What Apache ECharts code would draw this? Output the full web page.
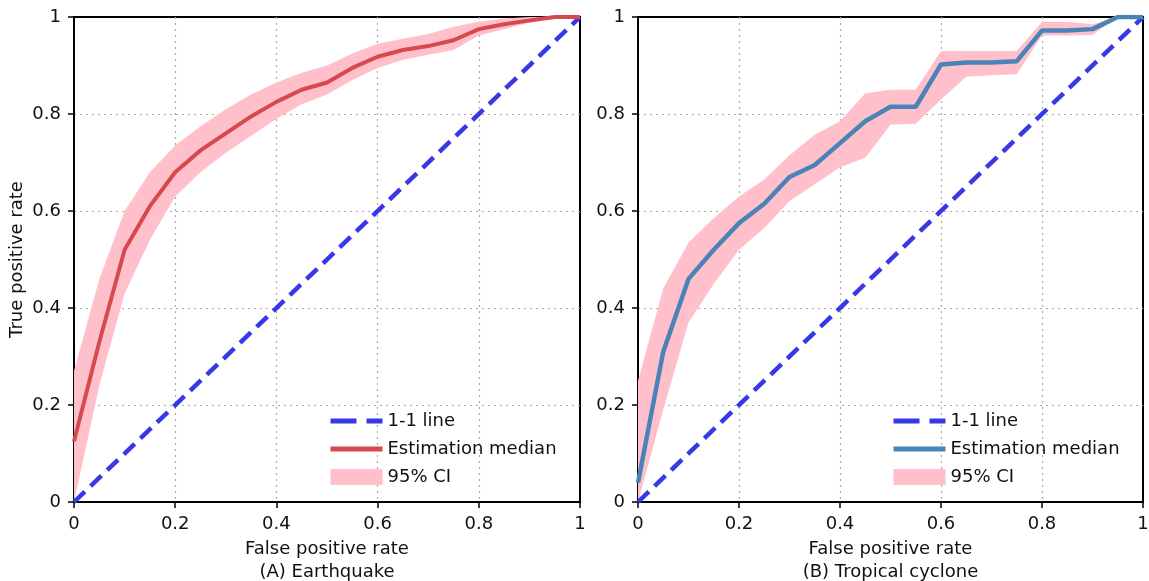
<!DOCTYPE html>
<html>
<head>
<meta charset="utf-8">
<script src="https://cdn.jsdelivr.net/npm/echarts@6/dist/echarts.min.js"></script>
<style>
  html, body { margin: 0; padding: 0; background: #fff; }
  #chart { width: 1149px; height: 581px; }
</style>
</head>
<body>
<div id="chart"></div>
<script>
// false positive rate grid shared by both panels
const fpr = [0, 0.05, 0.1, 0.15, 0.2, 0.25, 0.3, 0.35, 0.4, 0.45, 0.5,
             0.55, 0.6, 0.65, 0.7, 0.75, 0.8, 0.85, 0.9, 0.95, 1];

// (A) Earthquake
const quakeMedian = [0.125, 0.33, 0.52, 0.61, 0.68, 0.725, 0.76, 0.795, 0.825, 0.85, 0.865,
                     0.895, 0.918, 0.932, 0.94, 0.952, 0.975, 0.985, 0.993, 1, 1];
const quakeLower  = [0, 0.24, 0.43, 0.54, 0.63, 0.68, 0.72, 0.755, 0.79, 0.82, 0.84,
                     0.87, 0.895, 0.912, 0.922, 0.932, 0.962, 0.975, 0.988, 1, 1];
const quakeUpper  = [0.27, 0.46, 0.6, 0.68, 0.735, 0.775, 0.81, 0.84, 0.865, 0.885, 0.9,
                     0.925, 0.945, 0.955, 0.965, 0.98, 0.99, 0.997, 1, 1, 1];

// (B) Tropical cyclone
const cycloneMedian = [0.04, 0.31, 0.46, 0.52, 0.575, 0.615, 0.67, 0.695, 0.74, 0.785, 0.815,
                       0.815, 0.902, 0.906, 0.906, 0.909, 0.972, 0.972, 0.975, 1, 1];
const cycloneLower  = [0, 0.19, 0.37, 0.45, 0.52, 0.565, 0.62, 0.655, 0.69, 0.71, 0.778,
                       0.78, 0.83, 0.877, 0.88, 0.882, 0.962, 0.962, 0.963, 1, 1];
const cycloneUpper  = [0.25, 0.44, 0.535, 0.585, 0.63, 0.665, 0.715, 0.757, 0.785, 0.843, 0.85,
                       0.85, 0.93, 0.93, 0.93, 0.93, 0.99, 0.99, 0.985, 1, 1];

const oneToOne = [0, 1];

const FONT = 'DejaVu Sans';
const FS = 18;
const PINK = '#ffc0cb';
const DASH_BLUE = '#3838e6';
const RED = '#d64a4e';
const STEEL = '#4a84b6';

function pairs(xs, ys) { return xs.map((x, i) => [x, ys[i]]); }

function axisCommon(idx) {
  return {
    type: 'value', gridIndex: idx, min: 0, max: 1, interval: 0.2,
    axisLine: { show: true, onZero: false, lineStyle: { color: '#000', width: 2 } },
    axisTick: { show: true, length: 6, lineStyle: { color: '#000', width: 1.5 } },
    axisLabel: { color: '#111', fontFamily: FONT, fontSize: FS, margin: 13 },
    splitLine: { show: true, showMinLine: false, showMaxLine: false,
                 lineStyle: { color: '#aaa', type: [2, 4], width: 1.2 } },
    nameTextStyle: { color: '#111', fontFamily: FONT, fontSize: FS, lineHeight: 23 }
  };
}

// confidence band drawn as one polygon: upper edge forward, lower edge back
function bandSeries(idx, lower, upper) {
  return {
    name: '95% CI', type: 'custom', xAxisIndex: idx, yAxisIndex: idx,
    coordinateSystem: 'cartesian2d', data: [[0, 0]], silent: true,
    itemStyle: { color: PINK }, z: 1, clip: true,
    renderItem: function (params, api) {
      const pts = [];
      for (let i = 0; i < fpr.length; i++) pts.push(api.coord([fpr[i], upper[i]]));
      for (let i = fpr.length - 1; i >= 0; i--) pts.push(api.coord([fpr[i], lower[i]]));
      return { type: 'polygon', shape: { points: pts }, style: { fill: PINK } };
    }
  };
}

function panelSeries(idx, median, lower, upper, medColor, medWidth) {
  return [
    bandSeries(idx, lower, upper),
    {
      name: '1-1 line', type: 'line', xAxisIndex: idx, yAxisIndex: idx,
      data: pairs(oneToOne, oneToOne), symbol: 'none',
      itemStyle: { color: DASH_BLUE },
      lineStyle: { color: DASH_BLUE, width: 4.5, type: [15, 8] }, z: 3
    },
    {
      name: 'Estimation median', type: 'line', xAxisIndex: idx, yAxisIndex: idx,
      data: pairs(fpr, median), symbol: 'none',
      itemStyle: { color: medColor },
      lineStyle: { color: medColor, width: medWidth }, z: 4
    }
  ];
}

function legendFor(left, medColor) {
  return {
    orient: 'vertical', left: left, top: 407,
    itemWidth: 52, itemHeight: 16, itemGap: 10,
    textStyle: { color: '#111', fontFamily: FONT, fontSize: FS },
    selectedMode: false,
    data: [
      { name: '1-1 line', itemStyle: { opacity: 0 },
        lineStyle: { color: DASH_BLUE, width: 5, type: [26, 10] } },
      { name: 'Estimation median', itemStyle: { opacity: 0 },
        lineStyle: { color: medColor, width: 5, type: 'solid' } },
      { name: '95% CI', icon: 'rect', itemStyle: { color: PINK, borderWidth: 0 } }
    ]
  };
}

const chart = echarts.init(document.getElementById('chart'), null, { renderer: 'canvas' });

const xA = Object.assign(axisCommon(0), {
  name: 'False positive rate\n(A) Earthquake', nameLocation: 'middle', nameGap: 31
});
const xB = Object.assign(axisCommon(1), {
  name: 'False positive rate\n(B) Tropical cyclone', nameLocation: 'middle', nameGap: 31
});
const yA = Object.assign(axisCommon(0), {
  name: 'True positive rate', nameLocation: 'middle', nameGap: 39
});
const yB = axisCommon(1);

const gridBase = {
  top: 17, height: 485, show: true, borderColor: '#000', borderWidth: 2,
  backgroundColor: 'transparent', containLabel: false, outerBoundsMode: 'none'
};

chart.setOption({
  animation: false,
  backgroundColor: '#fff',
  grid: [
    Object.assign({ left: 74, width: 506 }, gridBase),
    Object.assign({ left: 638, width: 505 }, gridBase)
  ],
  xAxis: [xA, xB],
  yAxis: [yA, yB],
  legend: [legendFor(323, RED), legendFor(886, STEEL)],
  series: [].concat(
    panelSeries(0, quakeMedian, quakeLower, quakeUpper, RED, 4),
    panelSeries(1, cycloneMedian, cycloneLower, cycloneUpper, STEEL, 4.5)
  )
});
</script>
</body>
</html>
